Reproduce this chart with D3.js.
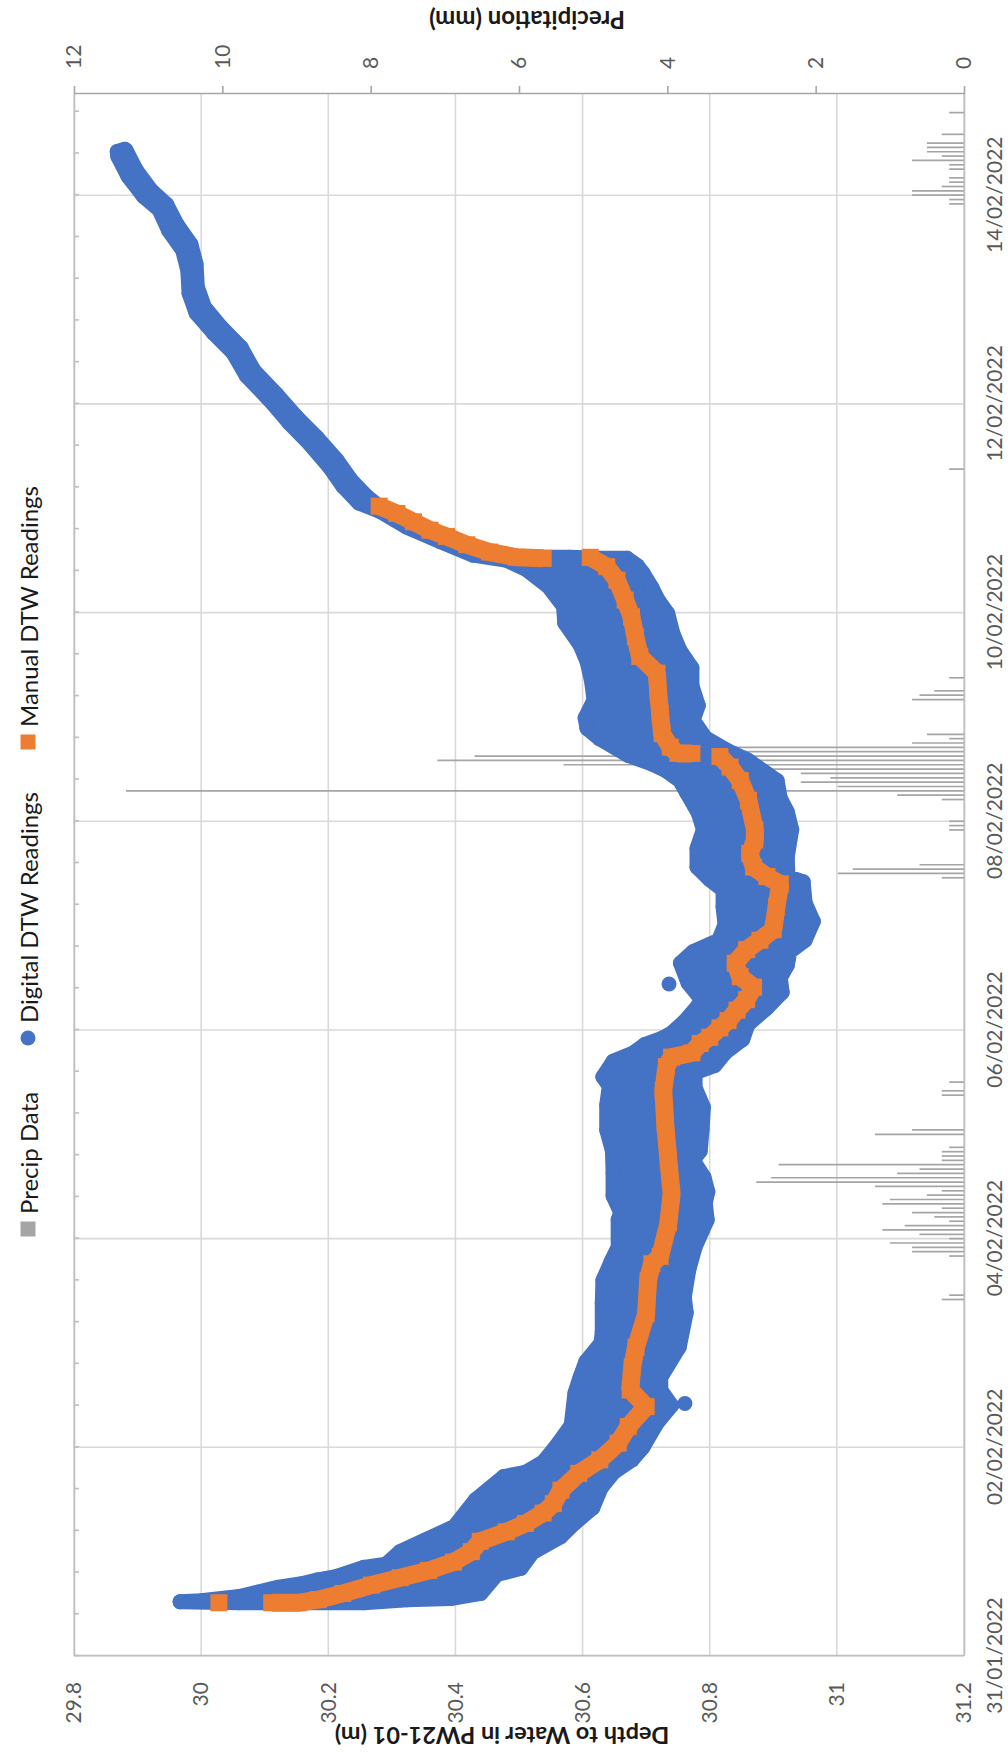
<!DOCTYPE html>
<html>
<head>
<meta charset="utf-8">
<script src="https://cdn.jsdelivr.net/npm/d3@7"></script>
<style>
  body { margin: 0; background: #fff; }
  svg { display: block; }
  text { font-family: Lato, "Liberation Sans", sans-serif; }
</style>
</head>
<body>
<div id="chart"></div>
<script>
// times are days since 31/01/2022 00:00, depths in m
// digital readings: edge of the scatter cloud, inner side (facing the bowl) and outer side
var digitalInner = [
  [0.52,29.967],[0.53,30.000],[0.57,30.060],[0.61,30.088],[0.66,30.122],[0.69,30.156],[0.73,30.184],[0.76,30.212],
  [0.85,30.256],[0.88,30.291],[1.00,30.313],[1.11,30.352],[1.24,30.398],[1.50,30.432],[1.72,30.476],[1.76,30.510],
  [1.86,30.538],[2.00,30.557],[2.21,30.582],[2.52,30.588],[2.67,30.596],[2.82,30.605],[3.00,30.629],[3.11,30.631],
  [3.38,30.631],[3.60,30.632],[3.78,30.645],[3.92,30.656],[4.18,30.656],[4.25,30.660],[4.41,30.648],[4.63,30.648],
  [4.84,30.647],[5.04,30.638],[5.28,30.638],[5.46,30.642],[5.55,30.632],[5.70,30.648],[5.78,30.680],[5.86,30.698],
  [5.92,30.725],[5.97,30.740],[6.08,30.760],[6.22,30.780],[6.29,30.787],[6.45,30.766],[6.64,30.754],[6.75,30.774],
  [6.86,30.814],[7.01,30.824],[7.18,30.821],[7.34,30.821],[7.44,30.800],[7.56,30.780],[7.74,30.780],[7.92,30.790],
  [8.08,30.782],[8.27,30.764],[8.39,30.753],[8.49,30.730],[8.55,30.709],[8.63,30.672],[8.79,30.627],[8.89,30.607],
  [8.99,30.604],[9.16,30.618],[9.35,30.614],[9.53,30.607],[9.69,30.596],[9.90,30.572],[10.06,30.570],[10.25,30.546],
  [10.41,30.512],[10.50,30.481],[10.55,30.428],[10.68,30.376],[10.82,30.323],[10.97,30.281],[11.05,30.248],[11.21,30.223],
  [11.40,30.201],[11.62,30.170],[11.82,30.138],[12.04,30.107],[12.27,30.071],[12.49,30.050],[12.68,30.019],[12.87,29.992],
  [13.06,29.981],[13.28,29.979],[13.47,29.971],[13.66,29.949],[13.86,29.934],[13.99,29.909],[14.18,29.885],[14.37,29.869],
  [14.42,29.868]
];
var digitalOuter = [
  [0.52,29.967],[0.51,30.060],[0.51,30.150],[0.51,30.256],[0.54,30.324],[0.55,30.392],[0.60,30.440],[0.78,30.465],
  [0.84,30.503],[0.99,30.521],[1.14,30.565],[1.27,30.587],[1.42,30.616],[1.61,30.629],[1.76,30.649],[1.88,30.678],
  [2.00,30.695],[2.23,30.717],[2.40,30.740],[2.55,30.723],[2.67,30.723],[2.96,30.752],[3.29,30.763],[3.44,30.760],
  [3.70,30.767],[3.92,30.777],[4.18,30.796],[4.34,30.793],[4.45,30.797],[4.59,30.791],[4.75,30.774],[4.84,30.785],
  [5.05,30.788],[5.26,30.790],[5.45,30.777],[5.59,30.777],[5.66,30.808],[5.78,30.824],[5.91,30.852],[6.05,30.860],
  [6.21,30.890],[6.36,30.914],[6.50,30.911],[6.62,30.922],[6.75,30.926],[6.86,30.950],[7.04,30.963],[7.22,30.950],
  [7.42,30.947],[7.47,30.923],[7.66,30.922],[7.92,30.929],[8.09,30.922],[8.22,30.911],[8.39,30.906],[8.59,30.859],
  [8.68,30.827],[8.80,30.793],[8.97,30.774],[9.11,30.782],[9.30,30.772],[9.47,30.772],[9.64,30.753],[9.80,30.742],
  [9.99,30.734],[10.12,30.719],[10.24,30.709],[10.38,30.695],[10.45,30.686],[10.52,30.670],[10.52,30.627],[10.53,30.580],
  [10.53,30.538],[10.54,30.497],[10.59,30.454],[10.65,30.418],[10.72,30.387],[10.79,30.360],[10.87,30.333],[10.95,30.308],
  [11.02,30.280],[11.11,30.261],[11.27,30.236],[11.46,30.214],[11.68,30.182],[11.87,30.151],[12.09,30.119],[12.32,30.083],
  [12.54,30.063],[12.74,30.031],[12.93,30.005],[13.12,29.994],[13.34,29.992],[13.53,29.984],[13.72,29.962],[13.91,29.946],
  [14.05,29.921],[14.24,29.898],[14.43,29.882],[14.44,29.880]
];
var digitalStray = [[2.42,30.761],[6.44,30.736]];

// manual readings in order; null = break in the run of markers
var manual = [
  [0.51,30.028], null,
  [0.51,30.111],[0.51,30.136],[0.51,30.153],[0.54,30.184],[0.60,30.223],[0.68,30.268],[0.75,30.313],[0.82,30.358],
  [0.90,30.397],[1.00,30.425],[1.10,30.439],[1.19,30.480],[1.27,30.510],[1.37,30.538],[1.46,30.554],[1.59,30.566],
  [1.75,30.594],[1.88,30.627],[2.04,30.656],[2.20,30.672],[2.39,30.700],[2.55,30.675],[2.77,30.678],[2.96,30.684],
  [3.28,30.700],[3.60,30.703],[3.76,30.709],[3.83,30.722],[4.15,30.735],[4.43,30.740],[4.75,30.735],[5.10,30.730],
  [5.42,30.727],[5.65,30.732],[5.74,30.740],[5.78,30.772],[5.87,30.785],[5.93,30.800],[6.02,30.816],[6.09,30.829],
  [6.19,30.843],[6.29,30.858],[6.41,30.869],[6.51,30.848],[6.64,30.840],[6.77,30.858],[6.86,30.879],[6.96,30.900],
  [7.18,30.905],[7.40,30.911],[7.47,30.890],[7.56,30.869],[7.69,30.863],[7.82,30.871],[7.92,30.871],[8.20,30.861],
  [8.39,30.848],[8.52,30.832],[8.62,30.816], null,
  [8.65,30.772],[8.65,30.750],[8.71,30.738],[8.84,30.725],[9.03,30.722],[9.23,30.719],[9.42,30.717],[9.58,30.690],
  [9.77,30.683],[9.96,30.677],[10.12,30.667],[10.31,30.654],[10.44,30.638],[10.53,30.612], null,
  [10.52,30.538],[10.53,30.496],[10.58,30.454],[10.65,30.418],[10.73,30.386],[10.79,30.360],[10.87,30.334],[10.95,30.308],
  [11.02,30.280]
];

// hourly precipitation: [hours since 31/01/2022 00:00, mm]
var precip = [
  [82,0.3],[83,0.2],[92,0.2],[93,0.7],[94,0.7],[95,1.0],[96,0.2],[97,0.6],[98,1.1],[99,0.8],[100,0.2],[101,0.4],
  [102,0.7],[103,0.3],[104,1.1],[105,1.0],[106,0.5],[107,0.3],[108,1.2],[109,2.8],[110,2.6],[111,0.9],[112,0.6],
  [113,2.5],[114,0.3],[115,0.3],[116,0.3],[117,0.2],[120,1.2],[121,0.7],[129,0.3],[130,0.3],[132,0.2],
  [179,0.3],[180,1.7],[181,1.5],[182,0.6],[190,0.2],[191,0.2],[192,0.2],[197,0.3],[198,0.9],[199,11.3],[200,1.7],
  [201,2.2],[202,1.8],[203,2.2],[204,2.7],[205,5.4],[206,7.1],[207,6.6],[208,3.1],[209,3.1],[210,0.7],[211,0.2],
  [212,0.5],[220,0.7],[221,0.6],[222,0.4],[225,0.2],[273,0.2],
  [334,0.2],[335,0.2],[336,0.7],[337,0.7],[338,0.3],[339,0.2],[340,0.2],[342,0.2],[343,0.2],[344,0.7],[345,0.3],
  [346,0.5],[347,0.5],[348,0.5],[350,0.3],[355,0.2]
];

var dateTicks = [0, 2, 4, 6, 8, 10, 12, 14];
var depthTicks = [29.8, 30, 30.2, 30.4, 30.6, 30.8, 31, 31.2];
var precipTicks = [0, 2, 4, 6, 8, 10, 12];
var legendItems = ['Precip Data', 'Digital DTW Readings', 'Manual DTW Readings'];

var blue = '#4472C4', orange = '#ED7D31', grey = '#A5A5A5';
var base = new Date(2022, 0, 31);
var fmt = d3.timeFormat('%d/%m/%Y');

// the chart is drawn the normal way round and then turned a quarter turn
var svg = d3.select('#chart').append('svg')
  .attr('width', 1008)
  .attr('height', 1754);
var g = svg.append('g').attr('transform', 'translate(0,1754) rotate(-90)');

var x = d3.scaleLinear().domain([0, 14.97]).range([98, 1660]);
var y = d3.scaleLinear().domain([29.8, 31.2]).range([74, 964]);
var yP = d3.scaleLinear().domain([0, 12]).range([964, 74]);

// gridlines
g.selectAll('line.vgrid').data(dateTicks).enter().append('line')
  .attr('class', 'vgrid')
  .attr('x1', function (d) { return x(d); })
  .attr('x2', function (d) { return x(d); })
  .attr('y1', 74).attr('y2', 964)
  .style('stroke', '#d9d9d9').style('stroke-width', 1.6);
g.selectAll('line.hgrid').data(depthTicks).enter().append('line')
  .attr('class', 'hgrid')
  .attr('x1', 98).attr('x2', 1660)
  .attr('y1', function (d) { return y(d); })
  .attr('y2', function (d) { return y(d); })
  .style('stroke', '#d9d9d9').style('stroke-width', 1.6);

// precipitation bars
g.selectAll('line.rain').data(precip).enter().append('line')
  .attr('class', 'rain')
  .attr('x1', function (d) { return x(d[0] / 24); })
  .attr('x2', function (d) { return x(d[0] / 24); })
  .attr('y1', yP(0))
  .attr('y2', function (d) { return yP(d[1]); })
  .style('stroke', grey).style('stroke-width', 1.7);

// digital readings: the cloud outline is stroked as wide as one marker
var edge = d3.line()
  .x(function (d) { return x(d[0]); })
  .y(function (d) { return y(d[1]); });
g.append('path')
  .attr('d', edge(digitalInner.concat(digitalOuter.slice().reverse())) + 'Z')
  .style('fill', blue)
  .style('stroke', blue)
  .style('stroke-width', 15)
  .style('stroke-linejoin', 'round');
g.selectAll('circle.dig').data(digitalInner.concat(digitalOuter, digitalStray)).enter().append('circle')
  .attr('class', 'dig')
  .attr('cx', function (d) { return x(d[0]); })
  .attr('cy', function (d) { return y(d[1]); })
  .attr('r', 7.5)
  .style('fill', blue);

// manual readings
var run = d3.line()
  .defined(function (d) { return d !== null; })
  .x(function (d) { return x(d[0]); })
  .y(function (d) { return y(d[1]); });
g.append('path')
  .attr('d', run(manual))
  .style('fill', 'none')
  .style('stroke', orange)
  .style('stroke-width', 18)
  .style('stroke-linejoin', 'bevel');
g.selectAll('rect.man').data(manual.filter(function (d) { return d !== null; })).enter().append('rect')
  .attr('class', 'man')
  .attr('x', function (d) { return x(d[0]) - 8.5; })
  .attr('y', function (d) { return y(d[1]) - 8.5; })
  .attr('width', 17).attr('height', 17)
  .style('fill', orange);

// axes
function styleAxis(sel, lineColor) {
  sel.select('.domain').style('stroke', lineColor).style('stroke-width', 1.6);
  sel.selectAll('.tick line').style('stroke', lineColor).style('stroke-width', 1.6);
  sel.selectAll('.tick text')
    .style('fill', '#595959')
    .style('font-family', 'Lato, "Liberation Sans", sans-serif')
    .style('font-size', '21px');
}

var minorAxis = g.append('g').attr('transform', 'translate(0,74)')
  .call(d3.axisBottom(x).tickValues(d3.range(0, 14.97, 0.4)).tickSize(5).tickSizeOuter(0).tickFormat(''));
styleAxis(minorAxis, '#bfbfbf');

var dateAxis = g.append('g').attr('transform', 'translate(0,964)')
  .call(d3.axisBottom(x).tickValues(dateTicks).tickSize(0).tickSizeOuter(0).tickPadding(23)
    .tickFormat(function (d) { return fmt(d3.timeDay.offset(base, d)); }));
styleAxis(dateAxis, '#bfbfbf');

var depthAxis = g.append('g').attr('transform', 'translate(98,0)')
  .call(d3.axisLeft(y).tickValues(depthTicks).tickSize(0).tickSizeOuter(0).tickPadding(26)
    .tickFormat(d3.format('')));
styleAxis(depthAxis, '#bfbfbf');

var precipAxis = g.append('g').attr('transform', 'translate(1660,0)')
  .call(d3.axisRight(yP).tickValues(precipTicks).tickSize(8).tickSizeOuter(0).tickPadding(17));
styleAxis(precipAxis, '#a6a6a6');

// axis titles
g.append('text')
  .attr('transform', 'translate(18,502) rotate(-90)')
  .attr('text-anchor', 'middle')
  .attr('dominant-baseline', 'central')
  .style('font-weight', 'bold')
  .style('font-size', '23.5px')
  .style('fill', '#1a1a1a')
  .text('Depth to Water in PW21-01 (m)');
g.append('text')
  .attr('transform', 'translate(1734,527) rotate(-90)')
  .attr('text-anchor', 'middle')
  .attr('dominant-baseline', 'central')
  .style('font-weight', 'bold')
  .style('font-size', '24px')
  .style('fill', '#1a1a1a')
  .text('Precipitation (mm)');

// legend
var legendAt = [525, 716, 1012];
var legend = g.selectAll('g.leg').data(legendItems).enter().append('g')
  .attr('class', 'leg')
  .attr('transform', function (d, i) { return 'translate(' + legendAt[i] + ',28)'; });
legend.each(function (d, i) {
  var item = d3.select(this);
  if (i === 1) {
    item.append('circle').attr('r', 7.5).style('fill', blue);
  } else {
    item.append('rect').attr('x', -7.5).attr('y', -7.5).attr('width', 15).attr('height', 15)
      .style('fill', i === 0 ? grey : orange);
  }
  item.append('text')
    .attr('x', 15)
    .attr('dominant-baseline', 'central')
    .style('font-size', '24px')
    .style('fill', '#1a1a1a')
    .text(d);
});
</script>
</body>
</html>
